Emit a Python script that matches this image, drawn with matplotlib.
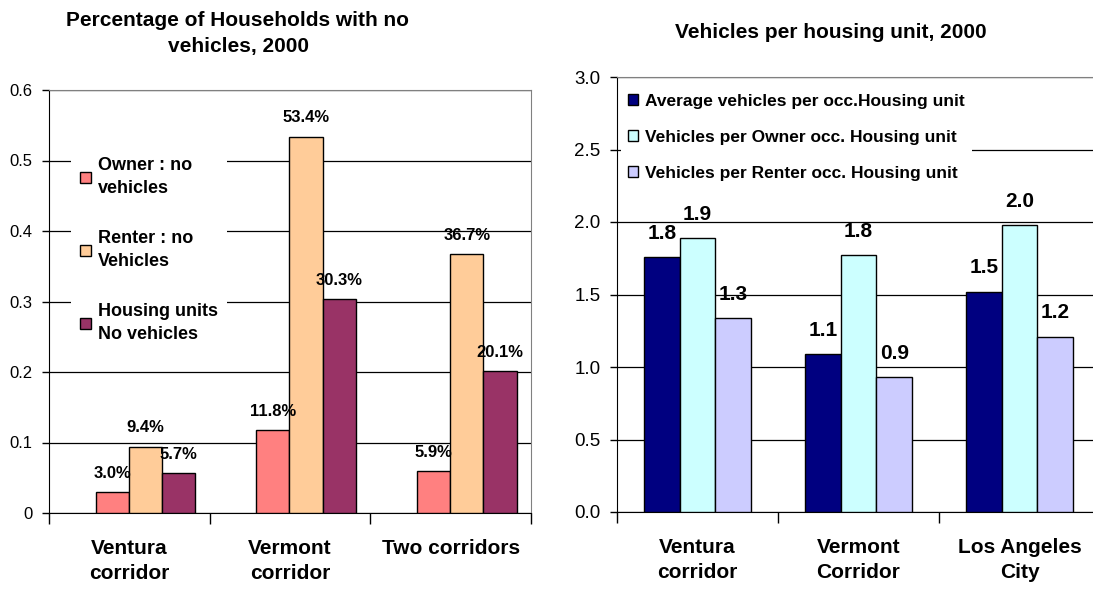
import matplotlib
matplotlib.use("Agg")
import matplotlib.pyplot as plt
import numpy as np

plt.rcParams['font.family'] = ['Liberation Sans', 'DejaVu Sans']

# ---- Left chart data ----
left_title = "Percentage of Households with no\nvehicles, 2000"
left_categories = ["Ventura\ncorridor", "Vermont\ncorridor", "Two corridors"]
left_series = ["Owner : no\nvehicles", "Renter : no\nVehicles", "Housing units\nNo vehicles"]
owner_no_veh = [0.030, 0.118, 0.059]
renter_no_veh = [0.094, 0.534, 0.367]
housing_no_veh = [0.057, 0.303, 0.201]
left_colors = ["#FF8080", "#FFCC99", "#993366"]
left_yticks = [0, 0.1, 0.2, 0.3, 0.4, 0.5, 0.6]
left_yticklabels = ["0", "0.1", "0.2", "0.3", "0.4", "0.5", "0.6"]

# ---- Right chart data ----
right_title = "Vehicles per housing unit, 2000"
right_categories = ["Ventura\ncorridor", "Vermont\nCorridor", "Los Angeles\nCity"]
right_series = ["Average vehicles per occ.Housing unit",
                "Vehicles per Owner occ. Housing unit",
                "Vehicles per Renter occ. Housing unit"]
avg_veh = [1.76, 1.09, 1.52]
owner_veh = [1.89, 1.77, 1.98]
renter_veh = [1.34, 0.93, 1.21]
right_colors = ["#000080", "#CCFFFF", "#CCCCFF"]
right_yticks = [0.0, 0.5, 1.0, 1.5, 2.0, 2.5, 3.0]

fig = plt.figure(figsize=(10.93, 5.89), dpi=100)

def style_axes(ax, ymax, yticks, yticklabels, cats, tick_fs):
    ax.set_xlim(-0.5, 2.5)
    ax.set_ylim(0, ymax)
    ax.set_yticks(yticks)
    ax.set_yticklabels(yticklabels, fontsize=tick_fs)
    ax.tick_params(axis='y', direction='out', length=5, width=1, pad=7)
    ax.set_xticks([-0.5, 0.5, 1.5, 2.5])
    ax.set_xticklabels([])
    ax.tick_params(axis='x', which='major', direction='out', length=8, width=1)
    ax.set_xticks([0, 1, 2], minor=True)
    ax.set_xticklabels(cats, minor=True, fontsize=15, fontweight='bold',
                       linespacing=1.35)
    ax.tick_params(axis='x', which='minor', length=0, pad=19)
    ax.yaxis.grid(True, color='black', linewidth=0.9)
    ax.set_axisbelow(True)
    for s in ['top', 'right']:
        ax.spines[s].set_color('#808080')
    for s in ['left', 'bottom']:
        ax.spines[s].set_color('black')

x = np.arange(3)

# ---------- Left ----------
axL = fig.add_axes([49/1093, 1-513/589, 482/1093, 423/589])
style_axes(axL, 0.6, left_yticks, left_yticklabels, left_categories, 12)
w = 0.207
shift = 0.1
for i, (vals, col, lab) in enumerate(zip([owner_no_veh, renter_no_veh, housing_no_veh],
                                         left_colors, left_series)):
    bars = axL.bar(x + (i - 1) * w + shift, vals, w, color=col, edgecolor='black',
                   linewidth=1, label=lab, zorder=3)
    for b, v in zip(bars, vals):
        axL.annotate(f"{v*100:.1f}%", (b.get_x() + b.get_width()/2, v),
                     xytext=(0, 13.5), textcoords='offset points',
                     ha='center', va='center', fontsize=12, fontweight='bold',
                     zorder=5)
legL = axL.legend(loc='upper left', bbox_to_anchor=(0.045, 0.862),
                  borderaxespad=0, frameon=True, fancybox=False,
                  edgecolor='none', facecolor='white', framealpha=1,
                  prop={'size': 13, 'weight': 'bold'},
                  handlelength=0.6, handleheight=0.6, handletextpad=0.4,
                  labelspacing=1.83, borderpad=0.5)
for t in legL.get_texts():
    t.set_linespacing(1.45)
legL.set_zorder(4)
for h in legL.legend_handles:
    h.set_edgecolor('black')
fig.text(238/1093, 1-33.5/589, left_title, ha='center', va='center',
         fontsize=15, fontweight='bold', linespacing=1.5)

# ---------- Right ----------
axR = fig.add_axes([617/1093, 1-512/589, 483/1093, 435/589])
style_axes(axR, 3.0, right_yticks, [f"{t:.1f}" for t in right_yticks],
           right_categories, 13.5)
wr = 0.222
for i, (vals, col, lab) in enumerate(zip([avg_veh, owner_veh, renter_veh],
                                         right_colors, right_series)):
    bars = axR.bar(x + (i - 1) * wr, vals, wr, color=col, edgecolor='black',
                   linewidth=1, label=lab, zorder=3)
    for b, v in zip(bars, vals):
        axR.annotate(f"{v:.1f}", (b.get_x() + b.get_width()/2, v),
                     xytext=(0, 17), textcoords='offset points',
                     ha='center', va='center', fontsize=15, fontweight='bold',
                     zorder=5)
legR = axR.legend(loc='upper left', bbox_to_anchor=(0.008, 0.978),
                  borderaxespad=0, frameon=True, fancybox=False,
                  edgecolor='none', facecolor='white', framealpha=1,
                  prop={'size': 12.5, 'weight': 'bold'},
                  handlelength=0.6, handleheight=0.6, handletextpad=0.4,
                  labelspacing=1.22, borderpad=0.4)
legR.set_zorder(4)
for h in legR.legend_handles:
    h.set_edgecolor('black')
fig.text(831/1093, 1-32/589, right_title, ha='center', va='center',
         fontsize=15, fontweight='bold')

fig.savefig("out.png", dpi=100)
